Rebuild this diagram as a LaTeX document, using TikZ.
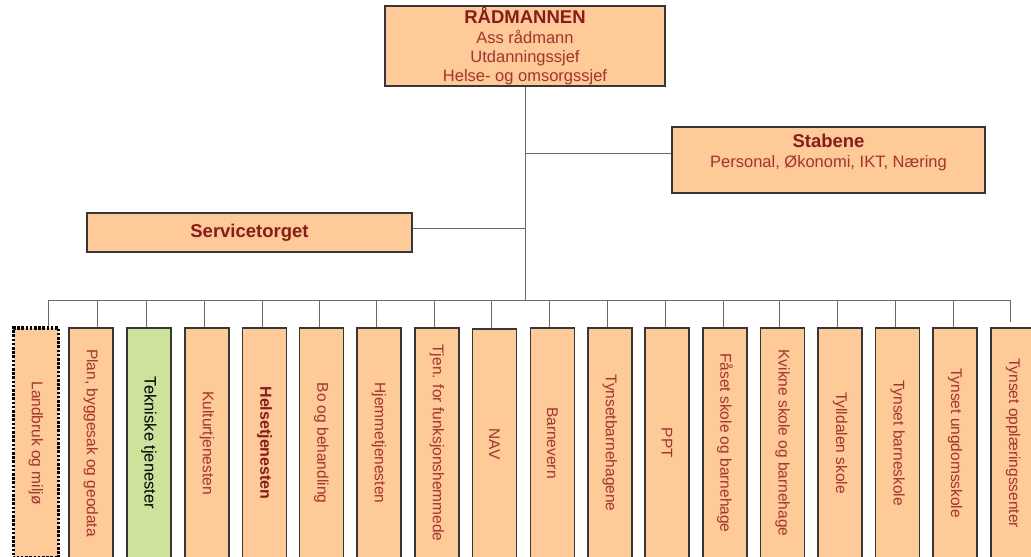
\documentclass[tikz,border=0pt]{standalone}
\usepackage{fontspec}
\setmainfont{Liberation Sans}
\usetikzlibrary{calc}
\definecolor{peach}{RGB}{253,202,152}
\definecolor{leaf}{RGB}{205,226,155}
\definecolor{edge}{RGB}{55,55,55}
\definecolor{titlered}{RGB}{140,26,26}
\definecolor{bodyred}{RGB}{172,48,44}
\definecolor{wire}{RGB}{105,105,105}
\tikzset{
  unit/.style={draw=edge, line width=1.5pt, fill=peach, inner sep=0pt, text=bodyred},
  vbox/.style={unit, rotate=-90, minimum width=230pt, minimum height=44pt,
    font=\fontsize{15.5}{17}\selectfont},
  dotbox/.style={vbox, draw=black, line width=3.2pt, dash pattern=on 2.6pt off 1.6pt, minimum height=45pt},
  greenbox/.style={vbox, fill=leaf, text=black, font=\fontsize{16.5}{18}\selectfont},
  boldbox/.style={vbox, text=titlered, font=\bfseries\fontsize{16}{18}\selectfont},
  conn/.style={draw=wire, line width=1pt},
  ttl/.style={font=\bfseries\fontsize{18.5}{21}\selectfont, text=titlered}
}
\begin{document}
\begin{tikzpicture}[x=1pt,y=-1pt]
\useasboundingbox (0,0) rectangle (1031,557);
\clip (0,0) rectangle (1031,557);

% top
\node[unit, minimum width=280pt, minimum height=80pt, align=center,
      font=\fontsize{16.5}{18.8}\selectfont] (top) at (525,46)
  {{\bfseries\fontsize{18.5}{21}\selectfont\color{titlered}RÅDMANNEN}\\[1pt]
   Ass rådmann\\ Utdanningssjef\\ Helse- og omsorgssjef};

\node[unit, minimum width=313pt, minimum height=66pt, align=center,
      font=\fontsize{16.5}{20}\selectfont, text depth=18pt] (stab) at (828.5,160)
  {{\bfseries\fontsize{18.5}{21}\selectfont\color{titlered}Stabene}\\
   Personal, Økonomi, IKT, Næring};

\node[unit, minimum width=325pt, minimum height=39pt, ttl] (serv) at (249.5,232.5)
  {Servicetorget};

% bottom boxes
\node[dotbox]   (b1)  at (36,443)    {Landbruk og miljø};
\node[vbox]     (b2)  at (91,443)    {Plan, byggesak og geodata};
\node[greenbox] (b3)  at (149,443)   {Tekniske tjenester};
\node[vbox]     (b4)  at (207,443)   {Kulturtjenesten};
\node[boldbox]  (b5)  at (264.5,443) {Helsetjenesten};
\node[vbox]     (b6)  at (321.5,443) {Bo og behandling};
\node[vbox]     (b7)  at (379,443)   {Hjemmetjenesten};
\node[vbox]     (b8)  at (437,443)   {Tjen. for funksjonshemmede};
\node[vbox]     (b9)  at (494.5,444) {NAV};
\node[vbox]     (b10) at (552.5,443) {Barnevern};
\node[vbox]     (b11) at (610,443)   {Tynsetbarnehagene};
\node[vbox]     (b12) at (667,443)   {PPT};
\node[vbox]     (b13) at (725,443)   {Fåset skole og barnehage};
\node[vbox]     (b14) at (782.5,443) {Kvikne skole og barnehage};
\node[vbox]     (b15) at (840,443)   {Tylldalen skole};
\node[vbox]     (b16) at (897.5,443) {Tynset barneskole};
\node[vbox]     (b17) at (955,443)   {Tynset ungdomsskole};
\node[vbox]     (b18) at (1013,443)  {Tynset opplæringssenter};

% connectors
\coordinate (bus) at (525,300);
\coordinate (js) at (525,153);
\coordinate (jv) at (525,228);
\draw[conn] (top.south) -- (bus);
\draw[conn] (js) -- (js -| stab.west);
\draw[conn] (jv) -- (jv -| serv.east);

\foreach \i/\dx in {1/48,2/97,3/146,4/204,5/262,6/319,7/376,8/434,9/491,
                    10/549,11/607,12/665,13/723,14/779,15/837,16/895,17/953,18/1010}
  \coordinate (d\i) at (\dx,300);
\draw[conn] (d1) -- (d18);
\foreach \i in {1,...,17}
  \draw[conn] (d\i) -- (d\i |- b\i.west);
\coordinate (e18) at (1010,322);
\draw[conn] (d18) -- (e18);
\end{tikzpicture}
\end{document}
